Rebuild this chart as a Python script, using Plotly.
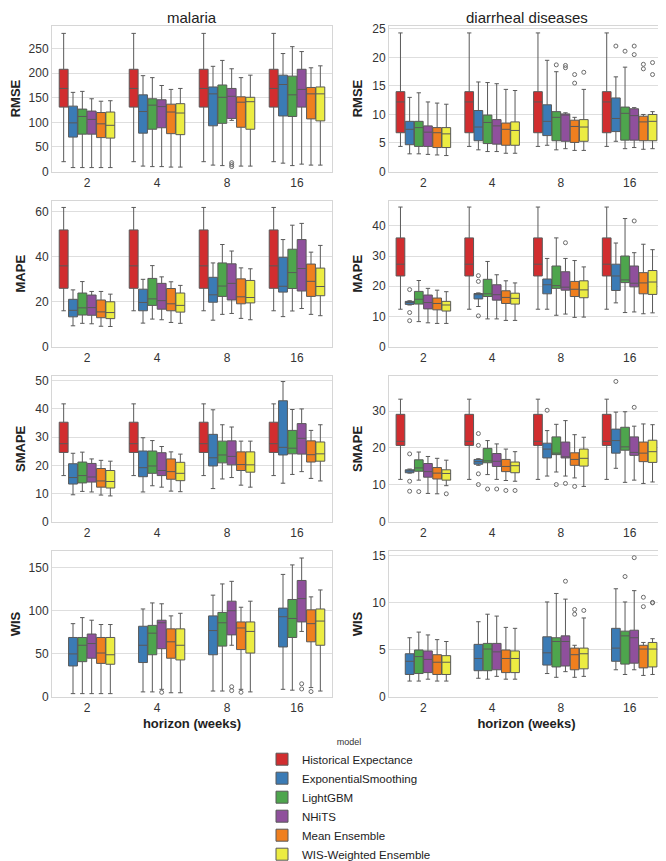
import plotly.graph_objects as go

models = ["Historical Expectance", "ExponentialSmoothing", "LightGBM", "NHiTS",
          "Mean Ensemble", "WIS-Weighted Ensemble"]
colors = ["#d12d2f", "#3b7bb5", "#4ea54d", "#8f509c", "#ef7f1f", "#ecec42"]
horizons = ["2", "4", "8", "16"]
diseases = ["malaria", "diarrheal diseases"]
metrics = ["RMSE", "MAPE", "SMAPE", "WIS"]

# box stats per model, one tuple per horizon: (lower whisker, q1, median, q3, upper whisker)
mal_rmse = {
    "Historical Expectance": [(20, 131, 169, 208, 281), (20, 131, 169, 208, 281), (20, 131, 169, 208, 281), (20, 131, 169, 208, 281)],
    "ExponentialSmoothing": [(8, 70, 99, 133, 161), (11, 78, 122, 156, 195), (13, 93, 158, 172, 214), (17, 113, 177, 196, 240)],
    "LightGBM": [(8, 76, 112, 127, 163), (10, 86, 135, 148, 191), (12, 98, 151, 176, 226), (12, 112, 156, 194, 254)],
    "NHiTS": [(8, 76, 106, 123, 148), (10, 89, 132, 146, 175), (104, 108, 153, 169, 209), (15, 131, 167, 208, 244)],
    "Mean Ensemble": [(8, 69, 97, 120, 143), (9, 77, 121, 137, 167), (11, 90, 141, 152, 191), (13, 107, 158, 171, 211)],
    "WIS-Weighted Ensemble": [(8, 68, 94, 121, 144), (9, 75, 119, 138, 169), (11, 86, 142, 151, 196), (13, 103, 158, 172, 215)],
}
mal_rmse_out = [("NHiTS", "8", 18), ("NHiTS", "8", 14), ("NHiTS", "8", 10)]

dia_rmse = {
    "Historical Expectance": [(4.4, 6.8, 12.2, 14.0, 24.3), (4.4, 6.8, 12.2, 14.0, 24.3), (4.4, 6.8, 12.2, 14.0, 24.3), (4.4, 6.8, 12.2, 14.0, 24.3)],
    "ExponentialSmoothing": [(3.1, 4.7, 7.4, 8.8, 13.0), (3.8, 5.4, 7.8, 10.7, 15.7), (4.6, 6.3, 8.8, 11.7, 19.5), (5.3, 7.0, 9.3, 12.9, 16.6)],
    "LightGBM": [(3.1, 4.4, 7.7, 8.8, 13.8), (3.5, 4.9, 8.6, 9.9, 15.6), (3.8, 5.4, 9.5, 10.5, 17.5), (4.0, 5.5, 10.2, 11.3, 18.3)],
    "NHiTS": [(3.0, 4.4, 6.9, 8.0, 12.2), (3.5, 4.8, 8.0, 9.1, 15.4), (4.0, 5.3, 9.9, 10.1, 10.3), (4.2, 5.5, 9.8, 11.0, 11.2)],
    "Mean Ensemble": [(2.9, 4.2, 6.8, 7.7, 12.0), (3.2, 4.6, 7.4, 8.5, 14.4), (3.7, 5.1, 7.9, 9.0, 9.5), (3.9, 5.4, 8.7, 9.7, 10.0)],
    "WIS-Weighted Ensemble": [(2.8, 4.2, 6.6, 7.7, 11.8), (3.2, 4.6, 7.2, 8.7, 14.2), (3.7, 5.3, 7.8, 9.1, 14.4), (4.0, 5.4, 8.8, 10.0, 10.5)],
}
dia_rmse_out = [("LightGBM", "8", 18.7), ("NHiTS", "8", 18.6), ("NHiTS", "8", 18.2),
                ("Mean Ensemble", "8", 17.0), ("Mean Ensemble", "8", 15.5), ("WIS-Weighted Ensemble", "8", 17.4),
                ("ExponentialSmoothing", "16", 22.0), ("LightGBM", "16", 21.1), ("NHiTS", "16", 22.0),
                ("NHiTS", "16", 20.5), ("Mean Ensemble", "16", 18.8), ("Mean Ensemble", "16", 18.0),
                ("WIS-Weighted Ensemble", "16", 19.1), ("WIS-Weighted Ensemble", "16", 17.0)]

mal_mape = {
    "Historical Expectance": [(16, 26, 36, 52, 62), (16, 26, 36, 52, 62), (16, 26, 36, 52, 62), (16, 26, 36, 52, 62)],
    "ExponentialSmoothing": [(9.3, 13.3, 16.2, 21.1, 25.3), (10.5, 16.0, 19.7, 25.6, 30.0), (11.8, 19.8, 23.1, 30.9, 37.3), (13.4, 24.3, 26.9, 39.8, 47.7)],
    "LightGBM": [(10.4, 14.1, 17.3, 23.9, 29.0), (12.3, 18.4, 21.3, 30.4, 36.1), (14.4, 22.4, 27.0, 37.3, 45.5), (15.9, 25.9, 33.0, 43.4, 54.1)],
    "NHiTS": [(10.2, 14.0, 17.4, 23.0, 24.6), (12.0, 16.7, 20.5, 28.2, 31.1), (14.8, 20.8, 28.2, 36.9, 42.6), (17.0, 24.8, 34.8, 47.7, 54.9)],
    "Mean Ensemble": [(9.1, 12.9, 15.5, 20.8, 24.6), (10.8, 16.0, 19.1, 25.9, 28.9), (12.6, 19.1, 22.2, 30.2, 35.1), (14.4, 22.4, 29.1, 36.8, 42.1)],
    "WIS-Weighted Ensemble": [(9.0, 12.5, 15.2, 20.0, 23.4), (10.4, 15.4, 18.4, 23.9, 27.3), (12.0, 19.5, 21.9, 29.5, 34.7), (13.8, 22.7, 26.8, 35.0, 45.1)],
}
mal_mape_out = []

dia_mape = {
    "Historical Expectance": [(12.4, 23.4, 27.3, 36.0, 46.2), (12.4, 23.4, 27.3, 36.0, 46.2), (12.4, 23.4, 27.3, 36.0, 46.2), (12.4, 23.4, 27.3, 36.0, 46.2)],
    "ExponentialSmoothing": [(13.8, 14.0, 14.6, 15.0, 15.2), (13.3, 15.8, 17.2, 17.6, 17.8), (12.4, 17.5, 20.5, 22.4, 29.2), (14.5, 18.6, 23.4, 27.3, 34.3)],
    "LightGBM": [(8.3, 14.1, 15.7, 18.3, 21.9), (9.2, 16.6, 17.5, 22.3, 28.2), (10.4, 19.3, 20.2, 26.7, 36.0), (11.3, 21.2, 22.1, 30.0, 42.4)],
    "NHiTS": [(7.9, 12.5, 14.6, 17.1, 19.3), (9.2, 15.4, 17.2, 20.5, 23.8), (10.8, 18.7, 19.7, 24.8, 29.2), (11.5, 19.8, 21.0, 26.7, 31.1)],
    "Mean Ensemble": [(7.7, 12.2, 14.3, 16.1, 18.7), (8.7, 14.3, 16.3, 18.5, 21.8), (9.7, 16.6, 19.0, 21.6, 28.5), (10.9, 17.5, 21.1, 24.5, 33.9)],
    "WIS-Weighted Ensemble": [(7.7, 11.8, 13.8, 15.0, 18.2), (8.7, 14.1, 16.0, 17.7, 21.1), (9.8, 16.2, 18.8, 21.8, 26.4), (11.2, 17.3, 21.4, 25.2, 32.1)],
}
dia_mape_out = [("ExponentialSmoothing", "2", 18.9), ("ExponentialSmoothing", "2", 11.3), ("ExponentialSmoothing", "2", 8.6),
                ("ExponentialSmoothing", "4", 23.5), ("ExponentialSmoothing", "4", 21.6), ("ExponentialSmoothing", "4", 10.2),
                ("NHiTS", "8", 34.4), ("NHiTS", "16", 41.6)]

mal_smape = {
    "Historical Expectance": [(16.4, 24.6, 27.7, 35.3, 41.8), (16.4, 24.6, 27.7, 35.3, 41.8), (16.4, 24.6, 27.7, 35.3, 41.8), (16.4, 24.6, 27.7, 35.3, 41.8)],
    "ExponentialSmoothing": [(9.6, 13.4, 15.7, 20.6, 24.3), (10.6, 16.0, 19.2, 25.1, 29.8), (11.8, 19.8, 22.7, 31.0, 39.7), (13.7, 23.7, 26.4, 42.9, 49.7)],
    "LightGBM": [(10.8, 13.8, 16.4, 21.2, 24.7), (12.8, 17.2, 19.8, 25.1, 28.8), (15.2, 20.9, 23.7, 28.6, 34.4), (16.8, 24.1, 26.1, 32.4, 39.8)],
    "NHiTS": [(10.6, 14.1, 15.9, 20.7, 22.3), (12.3, 16.4, 18.2, 24.5, 26.7), (15.7, 20.2, 23.2, 28.7, 33.6), (17.8, 24.0, 29.6, 34.8, 40.0)],
    "Mean Ensemble": [(9.5, 12.3, 14.5, 18.9, 21.8), (10.9, 15.1, 17.8, 22.3, 24.8), (13.0, 18.2, 20.3, 24.8, 28.6), (15.4, 21.2, 23.8, 28.7, 32.4)],
    "WIS-Weighted Ensemble": [(9.2, 12.0, 14.3, 18.2, 21.5), (10.7, 14.6, 17.2, 21.1, 24.0), (12.3, 17.6, 20.2, 24.8, 28.6), (14.5, 21.5, 24.1, 28.3, 34.4)],
}
mal_smape_out = []

dia_smape = {
    "Historical Expectance": [(11.5, 20.7, 21.8, 29.1, 33.2), (11.5, 20.7, 21.8, 29.1, 33.2), (11.5, 20.7, 21.8, 29.1, 33.2), (11.5, 20.7, 21.8, 29.1, 33.2)],
    "ExponentialSmoothing": [(13.2, 13.3, 13.8, 14.1, 14.3), (15.3, 15.6, 16.3, 16.9, 17.1), (12.4, 17.3, 19.7, 21.3, 24.7), (14.5, 18.6, 22.0, 25.1, 29.7)],
    "LightGBM": [(11.3, 13.7, 14.6, 16.8, 18.9), (12.8, 16.0, 16.5, 19.9, 22.0), (13.5, 18.2, 18.6, 23.0, 26.4), (10.7, 19.4, 20.3, 25.6, 29.8)],
    "NHiTS": [(7.7, 12.1, 13.6, 15.8, 17.7), (11.5, 15.0, 16.4, 18.5, 21.1), (12.4, 17.3, 17.6, 21.6, 27.4), (11.3, 18.0, 18.8, 23.0, 25.9)],
    "Mean Ensemble": [(7.6, 11.6, 13.2, 14.7, 17.2), (11.2, 13.6, 15.0, 16.9, 19.7), (11.9, 15.3, 16.9, 18.7, 23.6), (10.4, 16.3, 18.6, 21.6, 26.5)],
    "WIS-Weighted Ensemble": [(9.8, 11.3, 13.1, 14.1, 16.7), (11.0, 13.3, 15.2, 16.2, 19.0), (9.6, 15.1, 17.2, 19.7, 22.9), (10.8, 16.1, 19.0, 22.1, 26.3)],
}
dia_smape_out = [("ExponentialSmoothing", "2", 18.4), ("ExponentialSmoothing", "2", 11.0), ("ExponentialSmoothing", "2", 8.3),
                 ("LightGBM", "2", 8.2), ("WIS-Weighted Ensemble", "2", 7.6),
                 ("ExponentialSmoothing", "4", 23.9), ("ExponentialSmoothing", "4", 20.7), ("ExponentialSmoothing", "4", 13.0),
                 ("ExponentialSmoothing", "4", 10.1), ("LightGBM", "4", 8.9), ("NHiTS", "4", 8.9),
                 ("Mean Ensemble", "4", 8.5), ("WIS-Weighted Ensemble", "4", 8.5),
                 ("ExponentialSmoothing", "8", 30.2), ("LightGBM", "8", 10.1), ("NHiTS", "8", 10.4), ("Mean Ensemble", "8", 9.6),
                 ("ExponentialSmoothing", "16", 38.0), ("NHiTS", "16", 31.0)]

mal_wis = {
    "ExponentialSmoothing": [(4, 36, 50, 69, 85), (6, 40, 60, 82, 102), (7, 49, 77, 94, 118), (9, 58, 93, 103, 142)],
    "LightGBM": [(4, 41, 60, 69, 92), (6, 49, 74, 83, 109), (7, 59, 86, 98, 131), (8, 69, 91, 113, 153)],
    "NHiTS": [(4, 45, 62, 73, 89), (9, 56, 86, 89, 108), (60, 72, 100, 111, 134), (76, 87, 114, 135, 161)],
    "Mean Ensemble": [(4, 39, 51, 69, 84), (5, 45, 64, 79, 94), (9, 55, 80, 87, 104), (11, 64, 85, 101, 116)],
    "WIS-Weighted Ensemble": [(4, 38, 49, 69, 84), (5, 43, 60, 79, 97), (6, 51, 76, 87, 111), (7, 60, 88, 102, 124)],
}
mal_wis_out = [("NHiTS", "4", 5.5), ("NHiTS", "8", 12), ("NHiTS", "8", 7.5), ("Mean Ensemble", "8", 5.6),
               ("NHiTS", "16", 15.4), ("NHiTS", "16", 9.4), ("Mean Ensemble", "16", 6.4)]

dia_wis = {
    "ExponentialSmoothing": [(1.7, 2.4, 3.8, 4.6, 6.3), (2.0, 2.8, 4.1, 5.6, 8.0), (2.5, 3.4, 4.7, 6.4, 10.1), (2.9, 3.8, 5.2, 7.3, 11.5)],
    "LightGBM": [(1.7, 2.5, 4.3, 5.0, 6.9), (1.9, 2.8, 5.1, 5.7, 8.8), (2.1, 3.2, 5.9, 6.3, 11.0), (2.4, 3.5, 6.5, 7.0, 10.1)],
    "NHiTS": [(1.9, 2.6, 4.0, 4.9, 6.6), (2.2, 2.9, 4.8, 5.7, 8.6), (2.7, 3.3, 5.9, 6.5, 10.4), (2.9, 3.6, 6.3, 7.1, 11.3)],
    "Mean Ensemble": [(1.7, 2.4, 3.7, 4.5, 6.1), (1.9, 2.6, 4.1, 5.0, 7.4), (2.1, 2.9, 4.5, 5.2, 5.5), (2.3, 3.1, 5.1, 5.5, 5.8)],
    "WIS-Weighted Ensemble": [(1.7, 2.4, 3.7, 4.4, 5.9), (1.9, 2.6, 4.1, 4.9, 7.3), (2.2, 3.0, 4.6, 5.2, 8.4), (2.4, 3.2, 5.1, 5.8, 6.2)],
}
dia_wis_out = [("NHiTS", "8", 12.3), ("Mean Ensemble", "8", 9.3), ("Mean Ensemble", "8", 8.8),
               ("WIS-Weighted Ensemble", "8", 9.2), ("LightGBM", "16", 12.8), ("NHiTS", "16", 14.8),
               ("Mean Ensemble", "16", 10.6), ("Mean Ensemble", "16", 9.6),
               ("WIS-Weighted Ensemble", "16", 10.0), ("WIS-Weighted Ensemble", "16", 10.05)]

panels = [
    [(mal_rmse, mal_rmse_out), (dia_rmse, dia_rmse_out)],
    [(mal_mape, mal_mape_out), (dia_mape, dia_mape_out)],
    [(mal_smape, mal_smape_out), (dia_smape, dia_smape_out)],
    [(mal_wis, mal_wis_out), (dia_wis, dia_wis_out)],
]
yranges = [[(0, 297), (0, 25.6)], [(0, 65), (0, 48.3)], [(0, 51.7), (0, 39.5)], [(0, 169), (0, 15.5)]]
ydticks = [[50, 5], [20, 10], [10, 10], [50, 5]]

W, H = 666, 861
col_px = [(44, 324), (381, 656)]
row_px = [(18, 168), (198, 348), (378, 528), (558, 708)]
slot = 0.8 / len(models)
font = "Liberation Sans, Arial, sans-serif"
edge = "#595959"

fig = go.Figure()
layout = {}
for r, metric in enumerate(metrics):
    for c, dis in enumerate(diseases):
        k = r * 2 + c + 1
        stats, outs = panels[r][c]
        for mi, m in enumerate(models):
            if m not in stats:
                continue
            v = stats[m]
            pos = [hi + (mi - 2.5) * slot for hi in range(len(horizons))]
            fig.add_trace(go.Box(
                x=pos, orientation="v",
                lowerfence=[s[0] for s in v], q1=[s[1] for s in v], median=[s[2] for s in v],
                q3=[s[3] for s in v], upperfence=[s[4] for s in v],
                width=slot * 0.95, whiskerwidth=0.5,
                fillcolor=colors[mi], line=dict(color=edge, width=1),
                name=m, legendgroup=m, showlegend=(k == 1), hoverinfo="skip",
                xaxis=f"x{k}", yaxis=f"y{k}",
            ))
        if outs:
            ox = [horizons.index(h) + (models.index(m) - 2.5) * slot for m, h, _ in outs]
            oy = [val for _, _, val in outs]
            fig.add_trace(go.Scatter(
                x=ox, y=oy, mode="markers", showlegend=False, hoverinfo="skip",
                marker=dict(symbol="circle-open", size=4, color="#6b6b6b", line=dict(width=1)),
                xaxis=f"x{k}", yaxis=f"y{k}",
            ))
        x0, x1 = col_px[c]
        y0, y1 = row_px[r]
        sfx = "" if k == 1 else str(k)
        layout["xaxis" + sfx] = dict(
            domain=[x0 / W, x1 / W], anchor=f"y{k}", range=[-0.5, 3.5], automargin=False,
            tickvals=list(range(len(horizons))), ticktext=horizons,
            showgrid=False, zeroline=False, showline=True, mirror=True,
            linecolor="#d6d6d6", linewidth=1, ticks="",
            tickfont=dict(size=12, color="#333333", family=font),
            title=dict(text="<b>horizon (weeks)</b>" if r == 3 else "",
                       font=dict(size=13, color="#222222", family=font), standoff=4),
        )
        layout["yaxis" + sfx] = dict(
            domain=[1 - y1 / H, 1 - y0 / H], anchor=f"x{k}", range=list(yranges[r][c]), automargin=False,
            dtick=ydticks[r][c], showgrid=True, gridcolor="#dedede", gridwidth=1,
            zeroline=False, showline=True, mirror=True, linecolor="#d6d6d6", linewidth=1,
            tickfont=dict(size=12, color="#333333", family=font), ticks="",
            title=dict(text=f"<b>{metric}</b>", font=dict(size=13, color="#222222", family=font), standoff=6),
        )

annotations = []
for c, dis in enumerate(diseases):
    x0, x1 = col_px[c]
    annotations.append(dict(
        text=dis, x=(x0 + x1) / 2 / W, y=1 - 10 / H, xref="paper", yref="paper",
        xanchor="center", yanchor="middle", showarrow=False,
        font=dict(size=15, color="#222222", family=font),
    ))

fig.update_layout(
    **layout,
    annotations=annotations,
    width=W, height=H, autosize=False,
    margin=dict(l=0, r=0, t=0, b=0),
    paper_bgcolor="white", plot_bgcolor="white",
    boxmode="overlay",
    legend=dict(
        x=254 / W, xanchor="left", y=1 - 745 / H, yanchor="top",
        title=dict(text="model", side="top center", font=dict(size=9, color="#333333", family=font)),
        font=dict(size=11.5, color="#222222", family=font),
        bgcolor="rgba(0,0,0,0)", tracegroupgap=0, itemwidth=30,
    ),
)

fig.write_html("out.html")
